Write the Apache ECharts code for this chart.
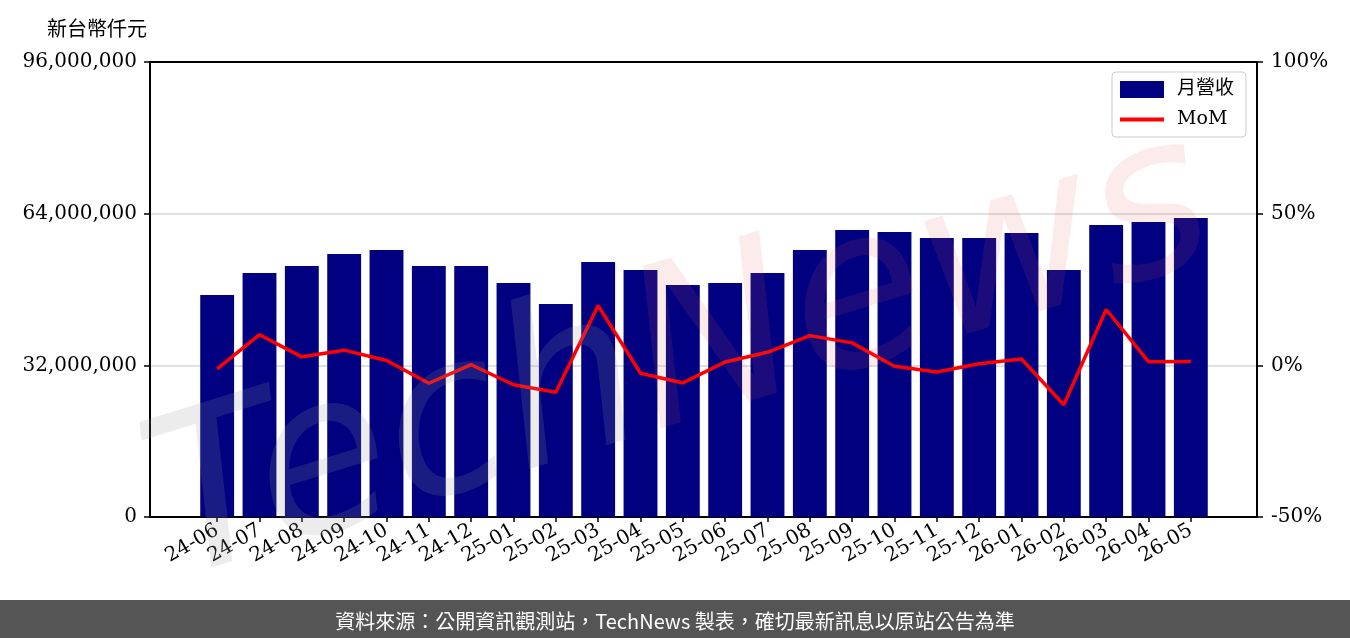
<!DOCTYPE html>
<html>
<head>
<meta charset="utf-8">
<script src="https://cdn.jsdelivr.net/npm/echarts@6/dist/echarts.min.js"></script>
<style>
  html, body { margin: 0; padding: 0; background: #fff; }
  #main { width: 1350px; height: 638px; }
</style>
</head>
<body>
<div id="main"></div>
<script>
// 月份
var months = ['24-06','24-07','24-08','24-09','24-10','24-11','24-12','25-01','25-02','25-03','25-04','25-05',
  '25-06','25-07','25-08','25-09','25-10','25-11','25-12','26-01','26-02','26-03','26-04','26-05'];
// 月營收 (新台幣仟元)
var revenue = [46840000, 51480000, 52960000, 55490000, 56330000, 52960000, 52960000, 49370000, 44940000, 53800000,
  52110000, 48950000, 49370000, 51480000, 56330000, 60550000, 60130000, 58870000, 58870000, 59920000,
  52110000, 61610000, 62240000, 63080000];
// MoM (%)
var mom = [-1.2, 10.1, 2.8, 5.0, 1.6, -5.9, 0.2, -6.4, -8.9, 19.7, -2.6, -5.8,
  1.1, 4.3, 9.8, 7.4, -0.3, -2.2, 0.5, 2.1, -13.0, 18.4, 1.2, 1.3];
var leftTicks = [0, 32000000, 64000000, 96000000];
var rightTicks = [-50, 0, 50, 100];

var serif = 'DejaVu Serif, "Noto Sans CJK TC", serif';
var frameLine = { show: true, onZero: false, lineStyle: { color: '#000', width: 2 } };
var myChart = echarts.init(document.getElementById('main'));

myChart.setOption({
  animation: false,
  textStyle: { fontFamily: serif },
  title: {
    text: '新台幣仟元',
    left: 42, top: 13,
    textStyle: { fontSize: 20, fontWeight: 'normal', color: '#000', fontFamily: '"Noto Sans CJK TC", sans-serif' }
  },
  legend: {
    orient: 'vertical',
    right: 104, top: 72,
    itemWidth: 44, itemHeight: 17, itemGap: 11,
    padding: [8, 12, 8, 6],
    backgroundColor: '#fff',
    borderColor: '#ccc', borderWidth: 1, borderRadius: 4,
    textStyle: { fontSize: 19, color: '#000', fontFamily: serif, padding: [0, 0, 0, 8] },
    data: [
      { name: '月營收', icon: 'rect' },
      { name: 'MoM', itemStyle: { opacity: 0 }, lineStyle: { width: 4, color: '#ff0000' } }
    ],
    z: 20
  },
  grid: [
    { left: 150, right: 93, top: 62, bottom: 121 },
    { left: 196, right: 138, top: 62, bottom: 121 }
  ],
  xAxis: [
    // 外框 (下、上)
    { gridIndex: 0, type: 'value', min: 0, max: 1, position: 'bottom',
      axisLine: frameLine, axisTick: { show: false }, axisLabel: { show: false }, splitLine: { show: false } },
    {
      gridIndex: 1, type: 'category', data: months, boundaryGap: true,
      axisLine: { show: false },
      axisTick: { show: true, alignWithLabel: true, length: 5, lineStyle: { color: '#000', width: 1.5 } },
      axisLabel: { rotate: 30, fontSize: 20, color: '#000', margin: 12, interval: 0 }
    },
    { gridIndex: 0, type: 'value', min: 0, max: 1, position: 'top',
      axisLine: frameLine, axisTick: { show: false }, axisLabel: { show: false }, splitLine: { show: false } }
  ],
  yAxis: [
    {
      gridIndex: 0, type: 'value', position: 'left',
      min: leftTicks[0], max: leftTicks[leftTicks.length - 1], interval: 32000000,
      axisLine: frameLine,
      axisTick: { show: true, length: 6, lineStyle: { color: '#000', width: 1.5 } },
      axisLabel: {
        fontSize: 20, color: '#000', margin: 13,
        formatter: function (v) { return v.toLocaleString('en-US'); }
      },
      splitLine: { show: true, lineStyle: { color: '#d6d6d6', width: 1.5 } }
    },
    {
      gridIndex: 0, type: 'value', position: 'right',
      min: rightTicks[0], max: rightTicks[rightTicks.length - 1], interval: 50,
      axisLine: frameLine,
      axisTick: { show: true, length: 6, lineStyle: { color: '#000', width: 1.5 } },
      axisLabel: { fontSize: 20, color: '#000', margin: 14, formatter: '{value}%' },
      splitLine: { show: false }
    },
    { gridIndex: 1, type: 'value', min: leftTicks[0], max: leftTicks[leftTicks.length - 1], show: false },
    { gridIndex: 1, type: 'value', min: rightTicks[0], max: rightTicks[rightTicks.length - 1], show: false }
  ],
  series: [
    {
      name: '月營收', type: 'bar', xAxisIndex: 1, yAxisIndex: 2,
      barWidth: '80%', data: revenue,
      itemStyle: { color: '#000080' }
    },
    {
      name: 'MoM', type: 'line', xAxisIndex: 1, yAxisIndex: 3,
      data: mom, symbol: 'none',
      lineStyle: { color: '#ff0000', width: 3.5 },
      itemStyle: { color: '#ff0000' }
    }
  ],
  graphic: [
    {
      type: 'text', left: 125, top: 95, rotation: 0.3, silent: true, z: 10,
      style: {
        text: '{a|Tech}{b|News}',
        rich: {
          a: { fontSize: 220, fontStyle: 'italic', fontFamily: 'DejaVu Sans', fill: 'rgba(150,150,150,0.18)' },
          b: { fontSize: 220, fontStyle: 'italic', fontFamily: 'DejaVu Sans', fill: 'rgba(220,90,90,0.12)' }
        }
      }
    },
    {
      type: 'rect', left: 0, bottom: 0, z: 30,
      shape: { width: 1350, height: 38 },
      style: { fill: '#555555' }
    },
    {
      type: 'text', left: 'center', bottom: 7, z: 31,
      style: {
        text: '資料來源：公開資訊觀測站，TechNews 製表，確切最新訊息以原站公告為準',
        fill: '#fff', fontSize: 20, fontFamily: '"Noto Sans CJK TC", sans-serif'
      }
    }
  ]
});
</script>
</body>
</html>
